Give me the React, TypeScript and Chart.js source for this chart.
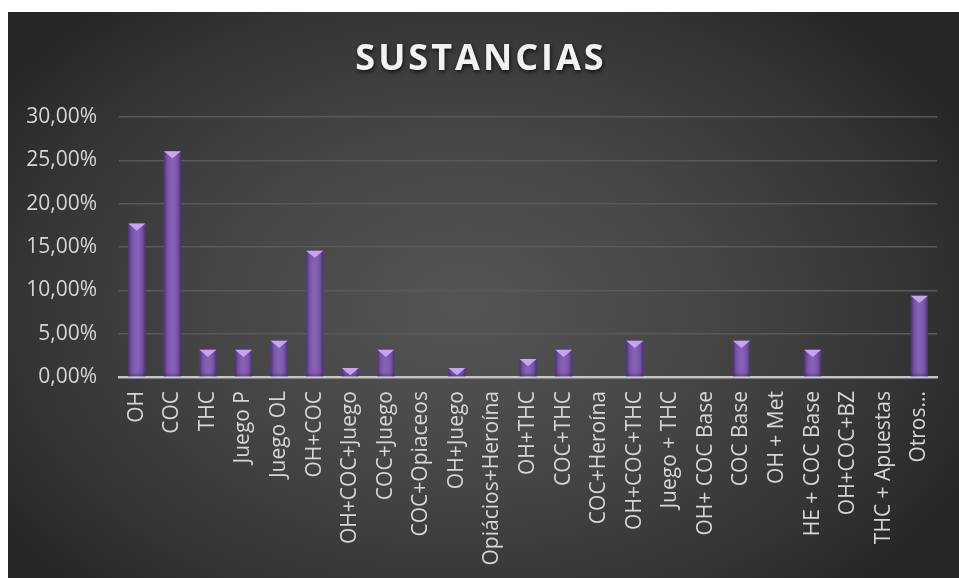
import React, { useEffect, useRef } from "react";
import { Chart, registerables } from "chart.js";

Chart.register(...registerables);

const categories = [
  "OH", "COC", "THC", "Juego P", "Juego OL", "OH+COC", "OH+COC+Juego", "COC+Juego",
  "COC+Opiaceos", "OH+Juego", "Opiácios+Heroína", "OH+THC", "COC+THC", "COC+Heroína",
  "OH+COC+THC", "Juego + THC", "OH+ COC Base", "COC Base", "OH + Met", "HE + COC Base",
  "OH+COC+BZ", "THC + Apuestas", "Otros...",
];

const shares = [
  0.1771, 0.2604, 0.0313, 0.0313, 0.0417, 0.1458, 0.0104, 0.0313,
  0, 0.0104, 0, 0.0208, 0.0313, 0,
  0.0417, 0, 0, 0.0417, 0, 0.0313,
  0, 0, 0.0938,
];

const titleText = "SUSTANCIAS";
const yMin = 0;
const yMax = 0.3;
const yStep = 0.05;

const FONT = "'Open Sans', 'DejaVu Sans', sans-serif";

const barShade = {
  id: "barShade",
  afterDatasetsDraw(chart: any) {
    const ctx = chart.ctx;
    const meta = chart.getDatasetMeta(0);
    meta.data.forEach((bar: any) => {
      const { x, y, base, width } = bar.getProps(["x", "y", "base", "width"], true);
      const h = base - y;
      if (h <= 0.5) return;
      const l = x - width / 2;
      const r = x + width / 2;
      ctx.save();
      const g = ctx.createLinearGradient(l, 0, r, 0);
      g.addColorStop(0, "rgba(35,15,65,0.55)");
      g.addColorStop(0.18, "rgba(35,15,65,0.12)");
      g.addColorStop(0.5, "rgba(255,255,255,0.05)");
      g.addColorStop(0.82, "rgba(35,15,65,0.12)");
      g.addColorStop(1, "rgba(35,15,65,0.55)");
      ctx.fillStyle = g;
      ctx.fillRect(l, y, width, h);
      const bg = ctx.createLinearGradient(0, base - 4, 0, base);
      bg.addColorStop(0, "rgba(35,15,65,0)");
      bg.addColorStop(1, "rgba(35,15,65,0.35)");
      ctx.fillStyle = bg;
      ctx.fillRect(l, Math.max(y, base - 4), width, Math.min(4, h));
      const th = Math.min(width * 0.42, h);
      ctx.beginPath();
      ctx.moveTo(l, y);
      ctx.lineTo(r, y);
      ctx.lineTo(x, y + th);
      ctx.closePath();
      ctx.fillStyle = "#c8a4f2";
      ctx.fill();
      ctx.restore();
    });
  },
};

export default function App() {
  const ref = useRef<HTMLCanvasElement | null>(null);

  useEffect(() => {
    if (!ref.current) return;
    const chart: any = new Chart(ref.current, {
      type: "bar",
      data: {
        labels: categories,
        datasets: [
          {
            data: shares,
            backgroundColor: "#7d5ab2",
            borderWidth: 0,
            barPercentage: 0.48,
            categoryPercentage: 1,
          },
        ],
      },
      options: {
        animation: false,
        responsive: true,
        maintainAspectRatio: false,
        layout: { padding: { left: 0, right: 21, top: 0, bottom: 0 } },
        plugins: {
          legend: { display: false },
          tooltip: { enabled: false },
          title: {
            display: true,
            text: titleText,
            color: "#f2f2f2",
            font: { family: FONT, size: 36, weight: "bold", lineHeight: 1.2 },
            padding: { top: 26.4, bottom: 35.4 },
          },
        },
        scales: {
          x: {
            grid: { display: false, drawTicks: false },
            border: { display: true, color: "#c4c4c4", width: 2.5 },
            ticks: {
              autoSkip: false,
              minRotation: 90,
              maxRotation: 90,
              padding: 14,
              color: "#d6d6d6",
              font: { family: FONT, size: 21 },
            },
            afterFit: (scale: any) => {
              scale.height = 201;
            },
          },
          y: {
            min: yMin,
            max: yMax,
            grid: { color: "#595959", lineWidth: 1.5, drawTicks: false },
            border: { display: false },
            ticks: {
              stepSize: yStep,
              padding: 22,
              color: "#d6d6d6",
              font: { family: FONT, size: 21 },
              callback: (v: any) => (Number(v) * 100).toFixed(2).replace(".", ",") + "%",
            },
            afterFit: (scale: any) => {
              scale.width = 111;
            },
          },
        },
      },
      plugins: [barShade],
    });
    const tb = chart.titleBlock;
    if (tb && typeof tb.draw === "function") {
      const orig = tb.draw.bind(tb);
      tb.draw = (...args: any[]) => {
        const ctx = chart.ctx;
        ctx.save();
        ctx.translate(8, 0);
        ctx.letterSpacing = "3px";
        ctx.shadowColor = "rgba(0,0,0,0.7)";
        ctx.shadowBlur = 4;
        ctx.shadowOffsetX = 1;
        ctx.shadowOffsetY = 2;
        orig(...args);
        ctx.restore();
      };
      chart.draw();
    }
    return () => chart.destroy();
  }, []);

  return (
    <div
      style={{
        position: "fixed",
        left: 8,
        top: 12,
        width: 951,
        height: 566,
        background:
          "radial-gradient(ellipse 60% 70% at 48% 52%, #555555 0%, #454545 45%, #333333 80%, #262626 100%)",
      }}
    >
      <canvas ref={ref} />
    </div>
  );
}
